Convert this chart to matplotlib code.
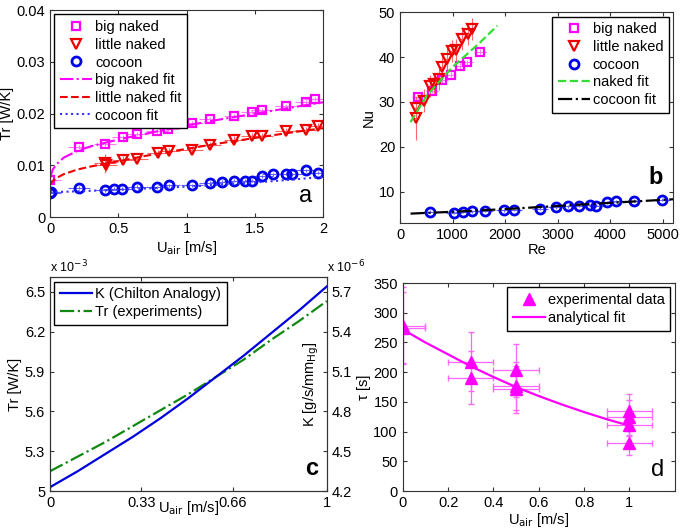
import matplotlib.pyplot as plt
import numpy as np

plt.rcParams['font.family'] = ['Liberation Sans', 'DejaVu Sans']
plt.rcParams['font.size'] = 10.5
plt.rcParams['axes.edgecolor'] = '#333333'
plt.rcParams['xtick.direction'] = 'in'
plt.rcParams['ytick.direction'] = 'in'

# ---- panel a : Tr vs U_air
a_big_x = [0, 0.215, 0.40, 0.537, 0.635, 0.78, 0.867, 1.04, 1.17, 1.35, 1.48, 1.55, 1.73, 1.87, 1.94]
a_big_y = [0.0072, 0.0136, 0.0142, 0.0154, 0.0160, 0.0167, 0.0171, 0.0181, 0.0189, 0.0196, 0.0203,
           0.0207, 0.0214, 0.0222, 0.0229]
a_lit_x = [0.40, 0.41, 0.532, 0.64, 0.79, 0.87, 1.04, 1.17, 1.35, 1.48, 1.55, 1.73, 1.87, 1.96]
a_lit_y = [0.0104, 0.0100, 0.0110, 0.0112, 0.0124, 0.0128, 0.0130, 0.0139, 0.0150, 0.0157, 0.0157,
           0.0166, 0.0169, 0.0176]
a_lit_err = [0.0018, 0.0010, 0.0008, 0.0007, 0.0006, 0.0006, 0.0006, 0.0006, 0.0006, 0.0006, 0.0006,
             0.0006, 0.0006, 0.0006]
a_coc_x = [0, 0.005, 0.215, 0.40, 0.47, 0.53, 0.64, 0.78, 0.87, 1.04, 1.17, 1.26, 1.35, 1.43, 1.48,
           1.55, 1.63, 1.73, 1.77, 1.87, 1.96]
a_coc_y = [0.0046, 0.0049, 0.0057, 0.0052, 0.0055, 0.0055, 0.0059, 0.0058, 0.0062, 0.0062, 0.0066,
           0.0068, 0.0070, 0.0070, 0.0070, 0.0079, 0.0083, 0.0084, 0.0083, 0.0091, 0.0086]
a_fit_x = [0, 0.02, 0.05, 0.1, 0.2, 0.3, 0.5, 0.75, 1.0, 1.25, 1.5, 1.75, 2.0]
a_big_fit = [0.0075, 0.0092, 0.0103, 0.0115, 0.0128, 0.0137, 0.0150, 0.0164, 0.0177, 0.0189, 0.0200,
             0.0211, 0.0222]
a_lit_fit = [0.0063, 0.0070, 0.0076, 0.0083, 0.0092, 0.0098, 0.0108, 0.0121, 0.0132, 0.0143, 0.0153,
             0.0163, 0.0172]
a_coc_fit = [0.0048, 0.0048, 0.0049, 0.0049, 0.0050, 0.0051, 0.0053, 0.0056, 0.0059, 0.0063, 0.0067,
             0.0072, 0.0078]

# ---- panel b : Nu vs Re
b_big_x = [333, 610, 802, 962, 1135, 1270, 1525]
b_big_y = [31.2, 32.5, 34.8, 36.1, 38.0, 38.8, 41.2]
b_lit_x = [308, 308, 462, 564, 654, 737, 801, 897, 994, 1058, 1186, 1295, 1378]
b_lit_y = [26.4, 28.7, 30.3, 33.6, 34.0, 35.1, 37.7, 39.6, 41.4, 41.6, 44.1, 45.2, 46.3]
b_lit_err = [5.0, 2.5, 2.5, 2.5, 2.5, 2.5, 2.5, 2.5, 2.5, 2.5, 2.5, 2.5, 2.5]
b_coc_x = [562, 1031, 1200, 1362, 1625, 1969, 2175, 2656, 2969, 3200, 3406, 3606, 3737, 3937, 4112,
           4450, 4987]
b_coc_y = [5.5, 5.3, 5.5, 5.6, 5.7, 5.8, 5.9, 6.2, 6.5, 6.7, 6.9, 7.0, 6.9, 7.6, 7.9, 8.0, 8.2]
b_naked_fit_x = [200, 500, 1000, 1500, 1850]
b_naked_fit_y = [25.5, 31.3, 37.8, 43.0, 47.0]
b_coc_fit_x = [200, 1000, 2000, 3000, 4000, 5200]
b_coc_fit_y = [5.1, 5.5, 6.1, 6.8, 7.5, 8.3]

# ---- panel c : Tr and K vs U_air (scaled units)
c_x = [0, 0.1, 0.2, 0.3, 0.4, 0.5, 0.6, 0.7, 0.8, 0.9, 1.0]
c_k = [4.23, 4.35, 4.48, 4.61, 4.75, 4.90, 5.06, 5.22, 5.39, 5.56, 5.74]
c_tr = [5.15, 5.26, 5.37, 5.49, 5.61, 5.73, 5.86, 5.99, 6.14, 6.28, 6.43]

# ---- panel d : tau vs U_air
d_x = [0, 0, 0.3, 0.3, 0.5, 0.5, 0.5, 1, 1, 1, 1]
d_y = [278, 275, 218, 191, 203, 177, 171, 134, 124, 112, 81]
d_yerr = [65, 60, 50, 45, 45, 40, 40, 30, 30, 20, 20]
d_fit_x = [0, 0.1, 0.2, 0.3, 0.4, 0.5, 0.6, 0.7, 0.8, 0.9, 1.0]
d_fit_y = [272, 250, 230, 210, 192, 175, 160, 146, 133, 121, 110]

fig = plt.figure(figsize=(6.85, 5.31), dpi=100)

leg_kw = dict(fancybox=False, edgecolor='black', borderaxespad=0.3, handlelength=2.2,
              handletextpad=0.2, labelspacing=0.25, framealpha=1, fontsize=10.5)


def ticks_all(ax):
    ax.tick_params(top=True, right=True, length=3, color='#333333')


# panel a
ax = fig.add_axes([0.073, 0.591, 0.399, 0.390])
ax.errorbar(a_big_x, a_big_y, xerr=0.08, yerr=0.0004, fmt='none', ecolor='#ff77ff', elinewidth=0.8)
ax.errorbar(a_lit_x, a_lit_y, xerr=0.08, yerr=a_lit_err, fmt='none', ecolor='#ff6666', elinewidth=0.8)
ax.errorbar(a_coc_x, a_coc_y, xerr=0.08, yerr=0.0003, fmt='none', ecolor='#6666ff', elinewidth=0.8)
ax.plot(a_big_x, a_big_y, 's', mfc='none', mec='#ff00ff', mew=1.6, ms=5.5, label='big naked')
ax.plot(a_lit_x, a_lit_y, 'v', mfc='none', mec='#ee0000', mew=1.6, ms=6.5, label='little naked')
ax.plot(a_coc_x, a_coc_y, 'o', mfc='none', mec='#0000ee', mew=2.0, ms=6.5, label='cocoon')
ax.plot(a_fit_x, a_big_fit, '-.', color='#ff00ff', lw=1.5, label='big naked fit')
ax.plot(a_fit_x, a_lit_fit, '--', color='#ee0000', lw=1.5, label='little naked fit')
ax.plot(a_fit_x, a_coc_fit, ':', color='#3333ff', lw=1.5, label='cocoon fit')
ax.set_xlim(0, 2)
ax.set_ylim(0, 0.04)
ax.set_xticks([0, 0.5, 1, 1.5, 2])
ax.set_xticklabels(['0', '0.5', '1', '1.5', '2'])
ax.set_yticks([0, 0.01, 0.02, 0.03, 0.04])
ax.set_yticklabels(['0', '0.01', '0.02', '0.03', '0.04'])
ax.set_xlabel('U$_{\\rm air}$ [m/s]', labelpad=2)
ax.set_ylabel('Tr [W/K]', labelpad=2)
ticks_all(ax)
ax.legend(loc='upper left', **leg_kw)
ax.text(0.96, 0.05, 'a', transform=ax.transAxes, fontsize=17, ha='right', va='bottom')

# panel b
ax = fig.add_axes([0.584, 0.580, 0.399, 0.397])
ax.errorbar(b_big_x, b_big_y, xerr=110, yerr=0.6, fmt='none', ecolor='#ff77ff', elinewidth=0.8)
ax.errorbar(b_lit_x, b_lit_y, xerr=40, yerr=b_lit_err, fmt='none', ecolor='#ff6666', elinewidth=0.8)
ax.errorbar(b_coc_x, b_coc_y, xerr=150, yerr=0.3, fmt='none', ecolor='#6666ff', elinewidth=0.8)
ax.plot(b_big_x, b_big_y, 's', mfc='none', mec='#ff00ff', mew=1.6, ms=5.5, label='big naked')
ax.plot(b_lit_x, b_lit_y, 'v', mfc='none', mec='#ee0000', mew=1.6, ms=6.5, label='little naked')
ax.plot(b_coc_x, b_coc_y, 'o', mfc='none', mec='#0000ee', mew=2.0, ms=6.5, label='cocoon')
ax.plot(b_naked_fit_x, b_naked_fit_y, '--', color='#33dd33', lw=1.6, label='naked fit')
ax.plot(b_coc_fit_x, b_coc_fit_y, '-.', color='black', lw=1.6, label='cocoon fit')
ax.set_xlim(0, 5200)
ax.set_ylim(3, 50)
ax.set_xticks([0, 1000, 2000, 3000, 4000, 5000])
ax.set_yticks([10, 20, 30, 40, 50])
ax.set_xlabel('Re', labelpad=1)
ax.set_ylabel('Nu', labelpad=2)
ticks_all(ax)
ax.legend(loc='upper right', **leg_kw)
ax.text(0.96, 0.16, 'b', transform=ax.transAxes, fontsize=17, ha='right', va='bottom',
        fontweight='bold')

# panel c
ax = fig.add_axes([0.073, 0.075, 0.404, 0.403])
ax2 = ax.twinx()
hk, = ax2.plot(c_x, c_k, '-', color='#0000dd', lw=1.6)
ht, = ax.plot(c_x, c_tr, '-.', color='#118811', lw=1.6)
ax.set_xlim(0, 1)
ax.set_ylim(5.0, 6.61)
ax2.set_ylim(4.2, 5.81)
ax.set_yticks([5, 5.3, 5.6, 5.9, 6.2, 6.5])
ax.set_yticklabels(['5', '5.3', '5.6', '5.9', '6.2', '6.5'])
ax2.set_yticks([4.2, 4.5, 4.8, 5.1, 5.4, 5.7])
ax.set_xticks([0, 0.33, 0.66, 1])
ax.set_xticklabels(['0', '0.33', '0.66', '1'])
ax.tick_params(length=3, color='#333333', top=True)
ax2.tick_params(length=3, color='#333333', direction='in')
ax.set_ylabel('Tr [W/K]', labelpad=2)
ax.text(0.945, 0.5, 'K [g/s/mm$_{\\rm Hg}$]', transform=ax.transAxes, rotation=90,
        ha='center', va='center')
ax.text(0.5, -0.035, 'U$_{\\rm air}$ [m/s]', transform=ax.transAxes, ha='center', va='top')
ax.text(0.0, 1.01, 'x 10$^{-3}$', transform=ax.transAxes, ha='left', va='bottom', fontsize=9)
ax2.text(1.0, 1.01, 'x 10$^{-6}$', transform=ax.transAxes, ha='left', va='bottom', fontsize=9)
ax.text(0.97, 0.05, 'c', transform=ax.transAxes, fontsize=17, ha='right', va='bottom',
        fontweight='bold')
ax2.legend([hk, ht], ['K (Chilton Analogy)', 'Tr (experiments)'], loc='upper left', **leg_kw)

# panel d
ax = fig.add_axes([0.588, 0.075, 0.397, 0.392])
ax.errorbar(d_x, d_y, xerr=0.1, yerr=d_yerr, fmt='none', ecolor='#ff66ff', elinewidth=0.9,
            capsize=2)
ax.plot(d_x, d_y, '^', color='#ff00ff', ms=8, label='experimental data')
ax.plot(d_fit_x, d_fit_y, '-', color='#ff00ff', lw=1.6, label='analytical fit')
ax.set_xlim(0, 1.2)
ax.set_ylim(0, 350)
ax.set_xticks([0, 0.2, 0.4, 0.6, 0.8, 1])
ax.set_xticklabels(['0', '0.2', '0.4', '0.6', '0.8', '1'])
ax.set_yticks(np.arange(0, 351, 50))
ax.set_xlabel('U$_{\\rm air}$ [m/s]', labelpad=1)
ax.set_ylabel('τ [s]', labelpad=2)
ticks_all(ax)
ax.legend(loc='upper right', **leg_kw)
ax.text(0.96, 0.05, 'd', transform=ax.transAxes, fontsize=17, ha='right', va='bottom')

fig.savefig('out.png', dpi=100)
